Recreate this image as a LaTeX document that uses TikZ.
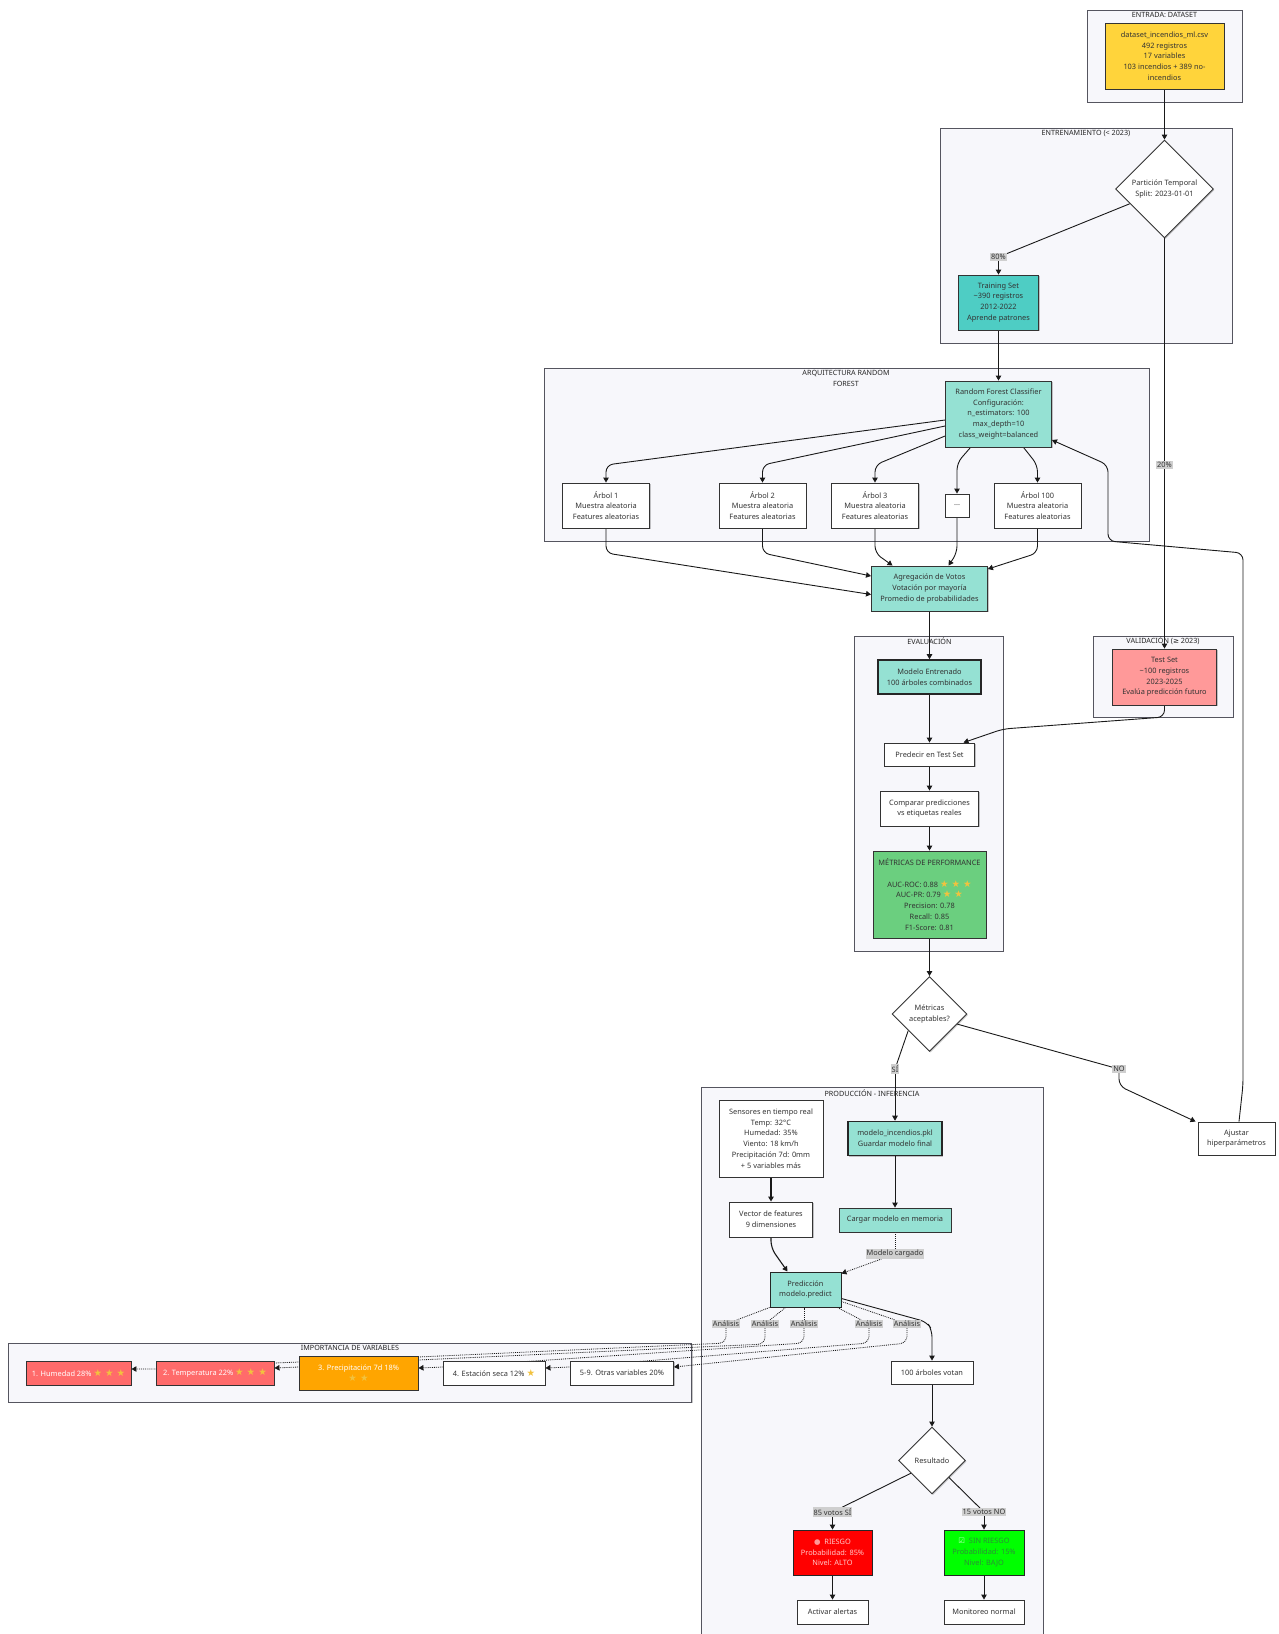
\documentclass[tikz,border=0pt]{standalone}
\usepackage{fontspec}
\setmainfont{Noto Sans}
\newfontfamily\symfont{DejaVu Sans}
\usepackage{tikz}
\usetikzlibrary{shapes.geometric}
\usetikzlibrary{arrows.meta}
\usetikzlibrary{shadows}
\definecolor{inkgray}{HTML}{333333}
\definecolor{framegray}{HTML}{55555F}
\definecolor{clusterbg}{HTML}{F7F7FB}
\definecolor{labelbg}{HTML}{CFCFCF}
\definecolor{datayellow}{HTML}{FFD43B}
\definecolor{trainteal}{HTML}{4ECDC4}
\definecolor{modelmint}{HTML}{95E1D3}
\definecolor{testpink}{HTML}{FF9999}
\definecolor{metricgreen}{HTML}{6BCF7F}
\definecolor{varred}{HTML}{FF6B6B}
\definecolor{varorange}{HTML}{FFA500}
\definecolor{stargold}{HTML}{F2C23E}
\definecolor{sininkgreen}{HTML}{2C8F38}
\pgfdeclarelayer{clusterlayer}
\pgfdeclarelayer{edgelayer}
\pgfsetlayers{clusterlayer,edgelayer,main}
\newcommand{\stars}[1]{\textcolor{stargold}{\symfont\fontsize{9.5}{10.7}\selectfont #1}}
\tikzset{
    softshadow/.style={drop shadow={shadow xshift=1pt, shadow yshift=-1pt, opacity=0.22, fill=black}},
    basebox/.style={draw=inkgray, line width=0.9pt, text=inkgray, align=center, inner sep=0pt,
        font=\fontsize{7.4}{10.7}\selectfont, softshadow},
    plainbox/.style={basebox, fill=white},
    mintbox/.style={basebox, fill=modelmint},
    heavybox/.style={mintbox, draw=black!85, line width=1.6pt},
    decision/.style={basebox, shape=diamond, aspect=1, fill=white},
    cluster/.style={draw=framegray, line width=0.9pt, fill=clusterbg, inner sep=0pt, softshadow},
    clustertitle/.style={text=black!85, align=center, inner sep=0pt, font=\fontsize{7.2}{10.7}\selectfont},
    edgelabel/.style={fill=labelbg, text=inkgray, inner sep=1pt, font=\fontsize{7.4}{9}\selectfont},
    flow/.style={draw=black!90, line width=0.9pt, rounded corners=7pt, >={Triangle[length=5pt,width=5.5pt]}},
    dotflow/.style={flow, densely dotted, line width=0.8pt},
}
\begin{document}
\begin{tikzpicture}[x=1pt, y=-1pt]
    \useasboundingbox (0,0) rectangle (1279,1634);
    % Grupos
    \begin{pgfonlayer}{clusterlayer}
        \node[cluster, minimum width=155pt, minimum height=92pt] (entradagrp) at (1164.5,56) {};
        \node[cluster, minimum width=292pt, minimum height=215pt] (entrenogrp) at (1086,235.5) {};
        \node[cluster, minimum width=605pt, minimum height=173pt] (arquigrp) at (846.5,454.5) {};
        \node[cluster, minimum width=149pt, minimum height=315pt] (evalgrp) at (928.5,793.5) {};
        \node[cluster, minimum width=140pt, minimum height=81pt] (validgrp) at (1163,676.5) {};
        \fill[clusterbg] (701,1087) rectangle (1043,1634);
        \draw[framegray, line width=0.9pt] (701,1634) -- (701,1087) -- (1043,1087) -- (1043,1634);
        \node[cluster, minimum width=683.5pt, minimum height=59pt] (importgrp) at (349.75,1372.5) {};
    \end{pgfonlayer}
    \node[clustertitle] (entradatit) at (1164.5,15) {ENTRADA: DATASET};
    \node[clustertitle] (entrenotit) at (1086,133) {ENTRENAMIENTO (< 2023)};
    \node[clustertitle] (arquitit) at (846,378.5) {ARQUITECTURA RANDOM\\FOREST};
    \node[clustertitle] (evaltit) at (929.5,641) {EVALUACIÓN};
    \node[clustertitle] (validtit) at (1163,641) {VALIDACIÓN ({\symfont ≥} 2023)};
    \node[clustertitle] (prodtit) at (872,1093) {PRODUCCIÓN - INFERENCIA};
    \node[clustertitle] (importtit) at (350,1348) {IMPORTANCIA DE VARIABLES};

    % Entrada y particion
    \node[basebox, fill=datayellow, minimum width=119pt, minimum height=66pt] (dataset) at (1164.5,56)
        {dataset\_incendios\_ml.csv\\492 registros\\17 variables\\103 incendios + 389 no-\\incendios};
    \node[decision, minimum width=98pt, minimum height=98pt] (particion) at (1164.5,189)
        {Partición Temporal\\Split: 2023-01-01};
    \node[basebox, fill=trainteal, minimum width=80pt, minimum height=55pt] (training) at (998.5,302.5)
        {Training Set\\\textasciitilde 390 registros\\2012-2022\\Aprende patrones};
    \node[edgelabel] (lab80) at (998.5,257) {80\%};
    \node[edgelabel] (lab20) at (1164.5,465) {20\%};

    % Bosque
    \node[mintbox, minimum width=106pt, minimum height=66pt] (rfmodel) at (998.5,414)
        {Random Forest Classifier\\Configuración:\\n\_estimators: 100\\max\_depth=10\\class\_weight=balanced};
    \node[plainbox, minimum width=87pt, minimum height=45pt] (arbolA) at (606,505.5)
        {Árbol 1\\Muestra aleatoria\\Features aleatorias};
    \node[plainbox, minimum width=87pt, minimum height=45pt] (arbolB) at (762.5,505.5)
        {Árbol 2\\Muestra aleatoria\\Features aleatorias};
    \node[plainbox, minimum width=87pt, minimum height=45pt] (arbolC) at (875,505.5)
        {Árbol 3\\Muestra aleatoria\\Features aleatorias};
    \node[plainbox, minimum width=24pt, minimum height=23pt] (arbolD) at (957,505.5) {...};
    \node[plainbox, minimum width=87pt, minimum height=45pt] (arbolE) at (1037.5,505.5)
        {Árbol 100\\Muestra aleatoria\\Features aleatorias};
    \node[mintbox, minimum width=116pt, minimum height=45pt] (agregacion) at (929.5,588.5)
        {Agregación de Votos\\Votación por mayoría\\Promedio de probabilidades};

    % Evaluacion
    \node[heavybox, minimum width=103pt, minimum height=34pt] (entrenado) at (929.5,677)
        {Modelo Entrenado\\100 árboles combinados};
    \node[basebox, fill=testpink, minimum width=104pt, minimum height=56pt] (testset) at (1164.5,677)
        {Test Set\\\textasciitilde 100 registros\\2023-2025\\Evalúa predicción futuro};
    \node[plainbox, minimum width=90pt, minimum height=23pt] (predecir) at (929.5,754.5) {Predecir en Test Set};
    \node[plainbox, minimum width=98pt, minimum height=35pt] (comparar) at (929.5,808.5)
        {Comparar predicciones\\vs etiquetas reales};
    \node[basebox, fill=metricgreen, draw=black!80, minimum width=113pt, minimum height=87pt] (metricas) at (929.5,894.5)
        {MÉTRICAS DE PERFORMANCE\\[10.7pt]AUC-ROC: 0.88 \stars{★ ★ ★}\\AUC-PR: 0.79 \stars{★ ★}\\Precision: 0.78\\Recall: 0.85\\F1-Score: 0.81};
    \node[decision, minimum width=75pt, minimum height=75pt] (aceptables) at (929.5,1014)
        {Métricas\\aceptables?};
    \node[edgelabel] (labsi) at (895,1069) {SÍ};
    \node[edgelabel] (labno) at (1119,1069) {NO};
    \node[plainbox, minimum width=77pt, minimum height=33pt] (ajustar) at (1236.5,1138.5)
        {Ajustar\\hiperparámetros};

    % Produccion
    \node[plainbox, minimum width=104pt, minimum height=77pt] (sensores) at (771,1138.5)
        {Sensores en tiempo real\\Temp: 32°C\\Humedad: 35\%\\Viento: 18 km/h\\Precipitación 7d: 0mm\\+ 5 variables más};
    \node[heavybox, minimum width=94pt, minimum height=34pt] (pklmodel) at (895,1138.5)
        {modelo\_incendios.pkl\\Guardar modelo final};
    \node[plainbox, minimum width=83pt, minimum height=35pt] (vector) at (771,1219.5)
        {Vector de features\\9 dimensiones};
    \node[mintbox, minimum width=112pt, minimum height=24pt] (cargar) at (895,1220) {Cargar modelo en memoria};
    \node[edgelabel] (labcarga) at (895,1254) {Modelo cargado};
    \node[heavybox, line width=1pt, minimum width=71pt, minimum height=35pt] (prediccion) at (805.5,1289.5)
        {Predicción\\modelo.predict};
    \node[edgelabel] (labA) at (726,1324) {Análisis};
    \node[edgelabel] (labB) at (765,1324) {Análisis};
    \node[edgelabel] (labC) at (804,1324) {Análisis};
    \node[edgelabel] (labD) at (869,1324) {Análisis};
    \node[edgelabel] (labE) at (907,1324) {Análisis};
    \node[plainbox, minimum width=82pt, minimum height=23pt] (votan) at (932,1372.5) {100 árboles votan};
    \node[decision, minimum width=67pt, minimum height=67pt] (resultado) at (932,1460.5) {Resultado};
    \node[edgelabel] (labsivotos) at (832.5,1512) {85 votos SÍ};
    \node[edgelabel] (labnovotos) at (984,1512) {15 votos NO};
    \node[basebox, fill=red, text=white!78!red, draw=black!85, minimum width=79pt, minimum height=45pt] (riesgo) at (832.5,1552.5)
        {\textcolor{red!40!white}{\symfont ●}\ \ RIESGO\\Probabilidad: 85\%\\Nivel: ALTO};
    \node[basebox, fill=green, text=sininkgreen, draw=black!85, minimum width=80pt, minimum height=45pt] (sinriesgo) at (984,1552.5)
        {\textcolor{white!75!green}{\symfont ☑}\ \ SIN RIESGO\\Probabilidad: 15\%\\Nivel: BAJO};
    \node[plainbox, minimum width=71pt, minimum height=24pt] (alertas) at (832.5,1612) {Activar alertas};
    \node[plainbox, minimum width=80pt, minimum height=24pt] (monitoreo) at (984,1612) {Monitoreo normal};

    % Importancia de variables
    \node[basebox, fill=varred, text=white, minimum width=105pt, minimum height=24pt] (varA) at (78.5,1373)
        {1. Humedad 28\% \stars{★ ★ ★}};
    \node[basebox, fill=varred, text=white, minimum width=118pt, minimum height=24pt] (varB) at (215,1373)
        {2. Temperatura 22\% \stars{★ ★ ★}};
    \node[basebox, fill=varorange, text=white, minimum width=119pt, minimum height=34pt] (varC) at (358.5,1373)
        {3. Precipitación 7d 18\%\\\stars{★ ★}};
    \node[plainbox, minimum width=102pt, minimum height=24pt] (varD) at (494,1373)
        {4. Estación seca 12\% \stars{★}};
    \node[plainbox, minimum width=103pt, minimum height=24pt] (varE) at (622,1373)
        {5-9. Otras variables 20\%};

    % Conectores
    \begin{pgfonlayer}{edgelayer}
        \draw[flow, ->] (dataset) -- (particion);
        \draw[flow] (particion.203) -- (lab80);
        \draw[flow, ->] (lab80) -- (training);
        \draw[flow] (particion) -- (lab20);
        \draw[flow, ->] (lab20) -- (testset);
        \draw[flow, ->] (training) -- (rfmodel);

        \draw[flow, ->] ([yshift=-6pt]rfmodel.west) -- (arbolA.north |- 0,465) -- (arbolA.north);
        \draw[flow, ->] ([yshift=-12pt]rfmodel.west) -- (arbolB.north |- 0,465) -- (arbolB.north);
        \draw[flow, ->] ([yshift=-22pt]rfmodel.west) -- (arbolC.north |- 0,465) -- (arbolC.north);
        \draw[flow, ->] ([xshift=-28pt]rfmodel.south) -- (arbolD.north |- 0,463) -- (arbolD.north);
        \draw[flow, ->] ([xshift=25pt]rfmodel.south) -- (arbolE.north |- 0,465) -- (arbolE.north);

        \draw[flow, ->] (arbolA.south) -- (arbolA.south |- 0,553) -- ([yshift=-6pt]agregacion.west);
        \draw[flow, ->] (arbolB.south) -- (arbolB.south |- 0,553) -- (agregacion.west |- 0,576);
        \draw[flow, ->] (arbolC.south) -- (arbolC.south |- 0,553) -- ([xshift=-37pt]agregacion.north);
        \draw[flow, ->] (arbolD.south) -- (arbolD.south |- 0,553) -- ([xshift=19pt]agregacion.north);
        \draw[flow, ->] (arbolE.south) -- (arbolE.south |- 0,553) -- (agregacion.east |- 0,569);
        \draw[flow, ->] (agregacion) -- (entrenado);

        \draw[flow, ->] (entrenado) -- (predecir);
        \draw[flow, ->] (testset.south) -- (testset.south |- 0,717) -- (1003,729) -- ([xshift=34pt]predecir.north);
        \draw[flow, ->] (predecir) -- (comparar);
        \draw[flow, ->] (comparar) -- (metricas);
        \draw[flow, ->] (metricas) -- (aceptables);

        \draw[flow] (aceptables.218) -- (labsi);
        \draw[flow, ->] (labsi) -- (pklmodel);
        \draw[flow] (aceptables.-20) -- (labno);
        \draw[flow, ->] (labno.south) -- (1119,1086) -- ([xshift=-2pt]ajustar.north west);
        \draw[flow, ->] ([xshift=2.5pt]ajustar.north) -- (1243,1085) -- (1243,553) -- (1108,541) -- (1108,465) -- ([yshift=-26pt]rfmodel.east);

        \draw[flow, ->] (pklmodel) -- (cargar);
        \draw[flow, ->, line width=1.1pt] (sensores.south) -- (vector.north);
        \draw[flow, dash pattern=on 1pt off 1pt] (cargar) -- (labcarga);
        \draw[dotflow, ->] (labcarga) -- ([yshift=-2pt]prediccion.north east);
        \draw[flow, ->, line width=1.1pt] (vector.south) -- (771,1248) -- ([xshift=-18pt]prediccion.north);
        \draw[flow, ->] ([yshift=-9pt]prediccion.east) -- (927,1322) -- (votan.north |- 0,1330) -- (votan.north);

        \draw[dotflow] (prediccion.south west) -- (labA);
        \draw[dotflow] ([xshift=-20pt]prediccion.south) -- (labB);
        \draw[dotflow] (prediccion.south -| labC) -- (labC);
        \draw[dotflow] ([xshift=-4pt]prediccion.south east) -- (labD);
        \draw[dotflow] ([yshift=-12pt]prediccion.east) -- (labE);

        \draw[dotflow, ->] (labA.south) -- (726,1343) -- (418,1357) -- (299,1362) -- (274,1363) -- (156,1369) -- (varA.east |- 0,1369);
        \draw[dotflow, ->] (labB.south) -- (765,1344) -- (418,1360) -- (299,1367) -- (varB.east |- 0,1368);
        \draw[dotflow, ->] (labC.south) -- (804,1343) -- (443,1367) -- (varC.east |- 0,1368);
        \draw[dotflow, ->] (labD.south) -- (869,1343) -- (570,1367) -- (varD.east |- 0,1368);
        \draw[dotflow, ->] (labE.south) -- (907,1343) -- (varE.east |- 0,1367);

        \draw[flow, ->] (votan) -- (resultado);
        \draw[flow] (resultado.211) -- (labsivotos);
        \draw[flow] (resultado.-45) -- (labnovotos);
        \draw[flow, ->] (labsivotos) -- (riesgo);
        \draw[flow, ->] (labnovotos) -- (sinriesgo);
        \draw[flow, ->] (riesgo) -- (alertas);
        \draw[flow, ->] (sinriesgo) -- (monitoreo);
    \end{pgfonlayer}
\end{tikzpicture}
\end{document}
